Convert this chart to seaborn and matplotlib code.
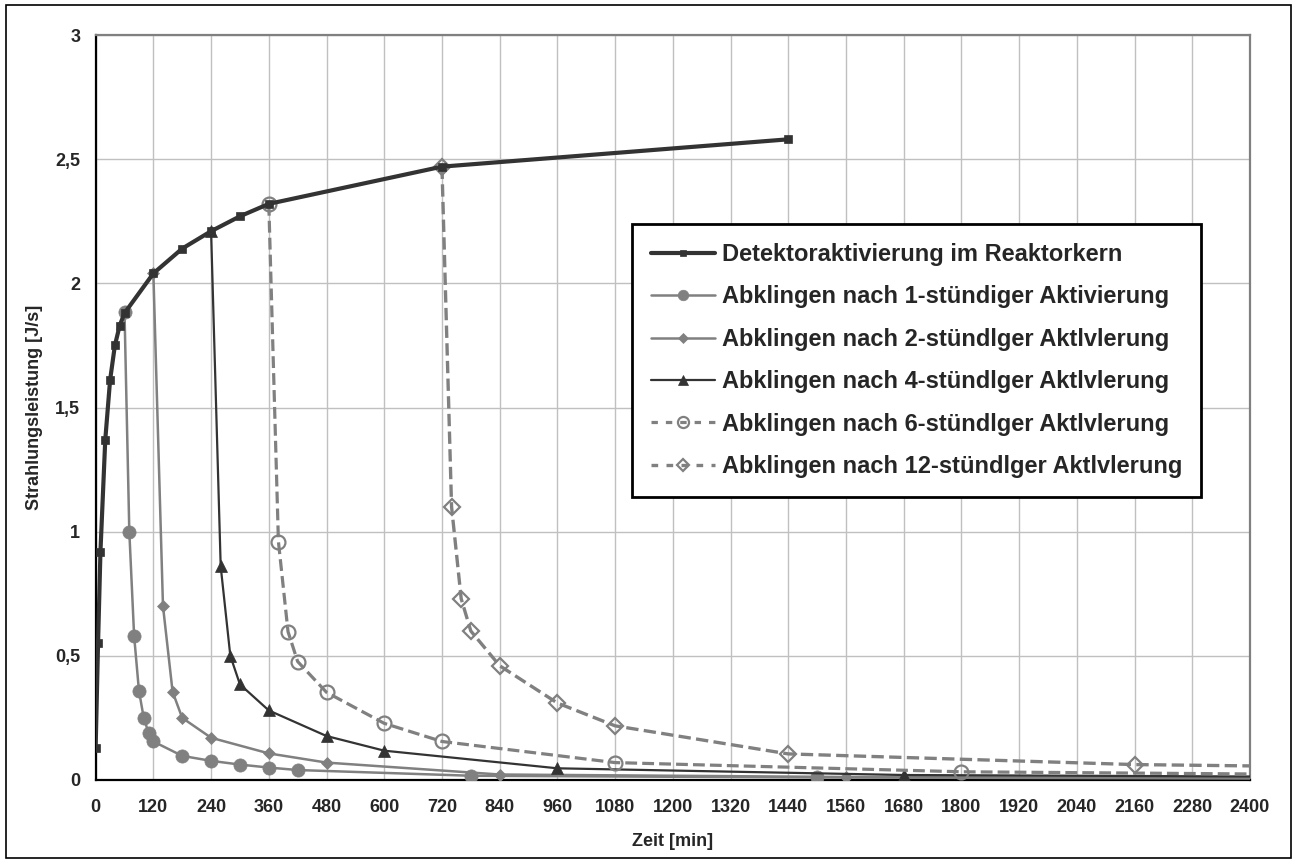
import matplotlib
matplotlib.use("Agg")
import matplotlib.pyplot as plt
from matplotlib.lines import Line2D
from matplotlib.patches import Rectangle
import seaborn as sns
import pandas as pd

# ---------------- data ----------------
t_detector = [0, 5, 10, 20, 30, 40, 50, 60, 120, 180, 240, 300, 360, 720, 1440]
p_detector = [0.13, 0.55, 0.92, 1.37, 1.61, 1.75, 1.83, 1.88, 2.04, 2.14, 2.21, 2.27, 2.32, 2.47, 2.58]

t_1h = [60, 70, 80, 90, 100, 110, 120, 180, 240, 300, 360, 420, 780, 1500, 2940]
p_1h = [1.885, 1.0, 0.58, 0.36, 0.25, 0.19, 0.155, 0.097, 0.077, 0.062, 0.05, 0.04, 0.017, 0.01, 0.004]

t_2h = [120, 140, 160, 180, 240, 360, 480, 840, 1560, 3000]
p_2h = [2.04, 0.70, 0.355, 0.25, 0.17, 0.107, 0.07, 0.022, 0.012, 0.005]

t_4h = [240, 260, 280, 300, 360, 480, 600, 960, 1680, 3120]
p_4h = [2.21, 0.86, 0.50, 0.385, 0.28, 0.177, 0.118, 0.047, 0.02, 0.008]

t_6h = [360, 380, 400, 420, 480, 600, 720, 1080, 1800, 3240]
p_6h = [2.32, 0.96, 0.597, 0.477, 0.353, 0.228, 0.155, 0.07, 0.033, 0.012]

t_12h = [720, 740, 760, 780, 840, 960, 1080, 1440, 2160, 3600]
p_12h = [2.47, 1.10, 0.73, 0.60, 0.46, 0.31, 0.218, 0.105, 0.062, 0.03]

labels = [
    "Detektoraktivierung im Reaktorkern",
    "Abklingen nach 1-stündiger Aktivierung",
    "Abklingen nach 2-stündlger Aktlvlerung",
    "Abklingen nach 4-stündlger Aktlvlerung",
    "Abklingen nach 6-stündlger Aktlvlerung",
    "Abklingen nach 12-stündlger Aktlvlerung",
]

x_ticks = list(range(0, 2401, 120))
y_ticks = [0, 0.5, 1, 1.5, 2, 2.5, 3]
y_ticklabels = ["0", "0,5", "1", "1,5", "2", "2,5", "3"]

# ---------------- style ----------------
sns.set_theme(style="white")
plt.rcParams["font.family"] = ["Liberation Sans", "DejaVu Sans"]
plt.rcParams["font.weight"] = "bold"

DARK = "#333333"
GRAY = "#808080"

fig = plt.figure(figsize=(12.96, 8.65), dpi=100)
ax = fig.add_axes([0.0738, 0.0983, 0.8907, 0.8612])

styles = [
    dict(color=DARK, lw=3.0, marker="s", ms=5.5, mfc=DARK, mec=DARK, mew=0.5, ls="-", dashes=None),
    dict(color=GRAY, lw=1.8, marker="o", ms=9.5, mfc=GRAY, mec=GRAY, mew=0.5, ls="-", dashes=None),
    dict(color=GRAY, lw=1.8, marker="D", ms=6.5, mfc=GRAY, mec=GRAY, mew=0.5, ls="-", dashes=None),
    dict(color=DARK, lw=1.6, marker="^", ms=9, mfc=DARK, mec=DARK, mew=0.5, ls="-", dashes=None),
    dict(color=GRAY, lw=2.3, marker="o", ms=10, mfc="none", mec=GRAY, mew=1.6, ls="--", dashes=(0.9, 1.7)),
    dict(color=GRAY, lw=2.4, marker="D", ms=8, mfc="none", mec=GRAY, mew=1.6, ls="--", dashes=(2.3, 3.4)),
]

series = [
    (t_detector, p_detector),
    (t_1h, p_1h),
    (t_2h, p_2h),
    (t_4h, p_4h),
    (t_6h, p_6h),
    (t_12h, p_12h),
]

order = [1, 2, 3, 4, 5, 0]  # detector drawn on top
for i in order:
    tx, py = series[i]
    st = styles[i]
    df = pd.DataFrame({"t": tx, "p": py})
    kw = dict(
        color=st["color"], linewidth=st["lw"], marker=st["marker"], markersize=st["ms"],
        markerfacecolor=st["mfc"], markeredgecolor=st["mec"], markeredgewidth=st["mew"],
        linestyle=st["ls"], zorder=3 + (10 if i == 0 else i),
    )
    if st["dashes"] is not None:
        kw["dashes"] = st["dashes"]
    sns.lineplot(data=df, x="t", y="p", ax=ax, sort=False, estimator=None, legend=False, **kw)

ax.set_xlim(0, 2400)
ax.set_ylim(0, 3)
ax.set_xticks(x_ticks)
ax.set_xticklabels([str(v) for v in x_ticks], fontsize=13, fontweight="bold")
ax.set_yticks(y_ticks)
ax.set_yticklabels(y_ticklabels, fontsize=13, fontweight="bold")
ax.grid(True, color="#c0c0c0", linewidth=1.0)
ax.set_axisbelow(True)

for s in ["left", "bottom"]:
    ax.spines[s].set_color("black")
    ax.spines[s].set_linewidth(1.6)
for s in ["top", "right"]:
    ax.spines[s].set_color(GRAY)
    ax.spines[s].set_linewidth(1.6)

ax.tick_params(axis="both", direction="out", length=5, width=1.2, color="black", pad=6)
ax.tick_params(axis="x", pad=9)

ax.set_xlabel("Zeit [min]", fontsize=13, fontweight="bold", labelpad=12)
ax.set_ylabel("Strahlungsleistung [J/s]", fontsize=13, fontweight="bold", labelpad=9)

# legend
handles = []
for i in range(6):
    st = styles[i]
    h = Line2D([0], [0], color=st["color"], linewidth=st["lw"], marker=st["marker"],
               markersize=st["ms"] * 0.8, markerfacecolor=st["mfc"], markeredgecolor=st["mec"],
               markeredgewidth=st["mew"], linestyle=st["ls"])
    if st["dashes"] is not None:
        h.set_dashes((2.0, 2.5))
    handles.append(h)

leg = ax.legend(handles, labels, loc="upper left", bbox_to_anchor=(0.4646, 0.746),
                fontsize=17, frameon=True, fancybox=False, framealpha=1,
                edgecolor="black", handlelength=2.7, handletextpad=0.3,
                labelspacing=0.82, borderpad=0.8, borderaxespad=0)
leg.get_frame().set_linewidth(2.0)
for txt in leg.get_texts():
    txt.set_fontweight("bold")

# outer border
fig.patches.append(Rectangle((0.0046, 0.0081), 0.9915, 0.9861, transform=fig.transFigure,
                             fill=False, edgecolor="black", linewidth=1.2))

fig.savefig("out.png", dpi=100)
